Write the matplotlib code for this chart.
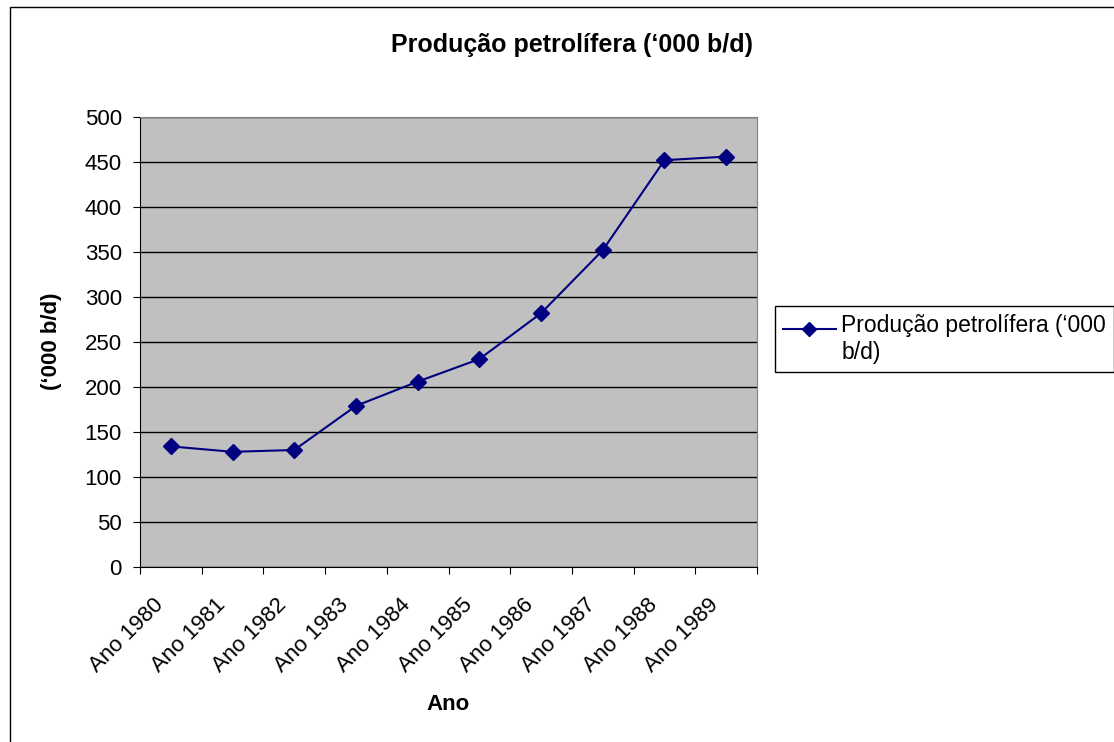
import matplotlib.pyplot as plt
import matplotlib.patches as patches
import matplotlib.transforms as mtransforms
from matplotlib.legend_handler import HandlerLine2D
import numpy as np

plt.rcParams['font.family'] = ['Liberation Sans', 'DejaVu Sans']
plt.rcParams['font.size'] = 16

# dados
anos = ['Ano 1980', 'Ano 1981', 'Ano 1982', 'Ano 1983', 'Ano 1984',
        'Ano 1985', 'Ano 1986', 'Ano 1987', 'Ano 1988', 'Ano 1989']
producao = [134, 128, 130, 179, 206, 231, 282, 352, 452, 456]

titulo = 'Produção petrolífera (\u2018000 b/d)'
legenda = 'Produção petrolífera (\u2018000\nb/d)'


# simbolo da legenda perto da primeira linha do texto
class HandlerPrimeiraLinha(HandlerLine2D):
    def create_artists(self, legend, orig_handle, xdescent, ydescent,
                       width, height, fontsize, trans):
        arts = super().create_artists(legend, orig_handle, xdescent, ydescent,
                                      width, height, fontsize, trans)
        for a in arts:
            a.set_ydata(np.asarray(a.get_ydata()) + 0.45 * fontsize)
        return arts


W, H = 1114, 742
fig = plt.figure(figsize=(W / 100, H / 100), dpi=100)

# moldura do gráfico (estilo Excel)
fig.patches.append(patches.Rectangle((10 / W, -0.1), 1.2, 1 - 7 / H + 0.1,
                                     transform=fig.transFigure, fill=False,
                                     edgecolor='black', linewidth=1))

ax = fig.add_axes([140 / W, 1 - 567 / H, 617 / W, 450 / H])
ax.set_facecolor('#C0C0C0')
for s in ax.spines.values():
    s.set_color('#808080')
ax.spines['left'].set_color('black')
ax.spines['bottom'].set_color('black')

x = np.arange(len(anos))
ax.plot(x, producao, color='#000080', linewidth=1.5, marker='D',
        markersize=8, markerfacecolor='#000080', markeredgecolor='#000080',
        label=legenda)

ax.set_xlim(-0.5, len(anos) - 0.5)
ax.set_ylim(0, 500)
ax.set_yticks(np.arange(0, 501, 50))
ax.yaxis.grid(True, color='black', linewidth=1)
ax.set_axisbelow(True)

# marcas entre categorias, rótulos inclinados por baixo de cada categoria
ax.set_xticks(np.arange(-0.5, len(anos), 1))
ax.set_xticklabels([])
ax.tick_params(axis='x', which='major', length=5, direction='out', color='black')
ax.tick_params(axis='y', length=5, direction='out', color='black', pad=8)
trans_rot = mtransforms.offset_copy(ax.get_xaxis_transform(), fig=fig,
                                    x=-7.5, y=-25, units='points')
for xi, a in zip(x, anos):
    ax.text(xi, 0, a, transform=trans_rot, rotation=45, ha='right',
            va='center', rotation_mode='anchor')

ax.set_xlabel('Ano', fontweight='bold', va='center')
ax.xaxis.set_label_coords(448 / W, 1 - 705 / H, transform=fig.transFigure)
ax.set_ylabel('(\u2018000 b/d)', fontweight='bold', va='center')
ax.yaxis.set_label_coords(51 / W, 1 - 341 / H, transform=fig.transFigure)
fig.text(572 / W, 1 - 45 / H, titulo, ha='center', va='center',
         fontweight='bold', fontsize=18)

leg = ax.legend(loc='upper left', bbox_to_anchor=(775 / W, 1 - 306 / H),
                bbox_transform=fig.transFigure, borderaxespad=0,
                fancybox=False, framealpha=1, edgecolor='black',
                fontsize=16.5, handlelength=2.3, handletextpad=0.25,
                borderpad=0.35,
                handler_map={plt.Line2D: HandlerPrimeiraLinha()})
leg.get_frame().set_linewidth(1)
for line in leg.get_lines():
    line.set_markersize(7)

fig.savefig('out.png', dpi=100)
